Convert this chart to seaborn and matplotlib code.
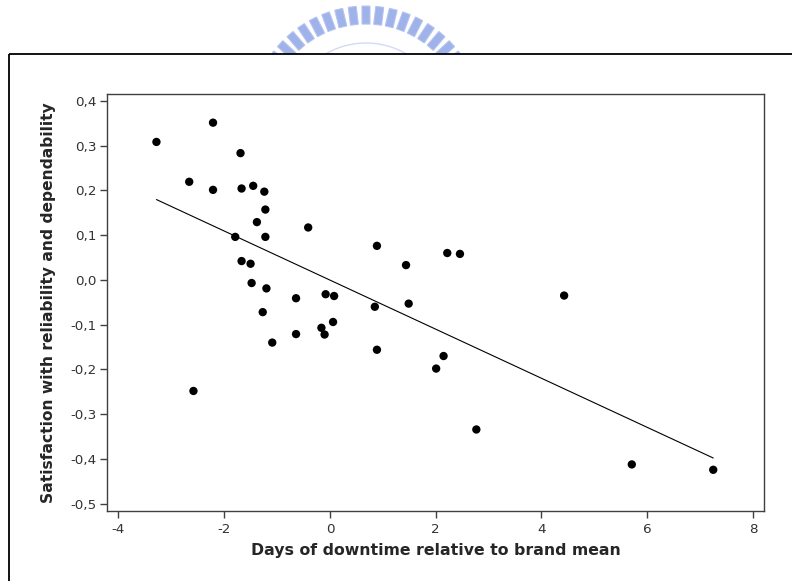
import numpy as np
import pandas as pd
import matplotlib
matplotlib.use("Agg")
import matplotlib.pyplot as plt
from matplotlib.patches import Polygon
import seaborn as sns

# Downtime (days relative to brand mean) vs. satisfaction score, one point per model
downtime = [-3.28, -2.66, -2.21, -2.21, -1.69, -1.67, -1.45, -1.24, -1.22, -1.38,
            -1.79, -1.22, -0.41, -1.67, -1.50, -1.48, -1.20, -1.27, -1.09, -0.64,
            -0.64, -2.58, -0.16, -0.10, -0.08, 0.08, 0.06, 0.85, 0.89, 0.89,
            1.44, 1.49, 2.22, 2.46, 2.15, 2.01, 2.77, 4.43, 5.71, 7.25]
satisfaction = [0.308, 0.219, 0.351, 0.201, 0.283, 0.204, 0.210, 0.197, 0.157, 0.129,
                0.096, 0.096, 0.117, 0.042, 0.036, -0.007, -0.019, -0.072, -0.140, -0.041,
                -0.121, -0.248, -0.107, -0.122, -0.032, -0.036, -0.094, -0.060, 0.076, -0.156,
                0.033, -0.053, 0.060, 0.058, -0.170, -0.198, -0.334, -0.035, -0.412, -0.424]

x_ticks = [-4, -2, 0, 2, 4, 6, 8]
x_tick_labels = ["-4", "-2", "0", "2", "4", "6", "8"]
y_ticks = [0.4, 0.3, 0.2, 0.1, 0.0, -0.1, -0.2, -0.3, -0.4, -0.5]
y_tick_labels = ["0,4", "0,3", "0,2", "0,1", "0,0", "-0,1", "-0,2", "-0,3", "-0,4", "-0,5"]

x_label = "Days of downtime relative to brand mean"
y_label = "Satisfaction with reliability and dependability"

df = pd.DataFrame({"downtime": downtime, "satisfaction": satisfaction})

sns.set_style("ticks")
plt.rcParams["font.family"] = ["DejaVu Sans"]

W, H = 792, 581
fig = plt.figure(figsize=(W / 100, H / 100), dpi=100)
fig.patch.set_facecolor("white")

# Page layer in pixel coordinates: seal emblem and the enclosing frame
bg = fig.add_axes([0, 0, 1, 1], zorder=0)
bg.set_xlim(0, W)
bg.set_ylim(H, 0)
bg.axis("off")

cx, cy, r_out, r_in = 366, 123, 117, 99
angles = np.linspace(np.radians(144), np.radians(36), 17)
half = np.radians(2.3)
for a in angles:
    pts = []
    for rr, da in ((r_in, -half), (r_out, -half * 0.85), (r_out, half * 0.85), (r_in, half)):
        pts.append((cx + rr * np.cos(a + da), cy - rr * np.sin(a + da)))
    bg.add_patch(Polygon(pts, closed=True, facecolor="#9aaee8", edgecolor="#b4c3ee",
                         lw=0.8, alpha=0.95))
ring = np.linspace(np.radians(140), np.radians(40), 200)
bg.plot(cx + 80 * np.cos(ring), cy - 80 * np.sin(ring), color="#d3dbf4", lw=1.0)
bg.fill_between([0, W], 54, H, color="white", zorder=3)
bg.plot([9, W], [54, 54], color="black", lw=1.3, zorder=4, solid_capstyle="butt")
bg.plot([9, 9], [54, H], color="black", lw=1.3, zorder=4, solid_capstyle="butt")

# Scatter with least-squares fit
ax = fig.add_axes([107 / W, 1 - 511 / H, (764 - 107) / W, (511 - 94) / H], zorder=2)
sns.regplot(data=df, x="downtime", y="satisfaction", ax=ax, ci=None,
            scatter_kws=dict(s=36, color="black", edgecolor="none", alpha=1),
            line_kws=dict(color="black", lw=0.8))

ax.set_xlim(-4.215, 8.21)
ax.set_ylim(-0.516, 0.415)
ax.set_xticks(x_ticks)
ax.set_xticklabels(x_tick_labels)
ax.set_yticks(y_ticks)
ax.set_yticklabels(y_tick_labels)
ax.tick_params(axis="both", direction="out", length=5, width=1, color="#404040",
               labelsize=9.7, labelcolor="#333333", pad=2.5)
ax.tick_params(axis="x", pad=3.5)
for sp in ax.spines.values():
    sp.set_color("#404040")
    sp.set_linewidth(1)
ax.set_xlabel(x_label, fontsize=11.3, fontweight="bold", labelpad=5)
ax.set_ylabel(y_label, fontsize=11.2, fontweight="bold", labelpad=10)

fig.savefig("out.png", dpi=100)
